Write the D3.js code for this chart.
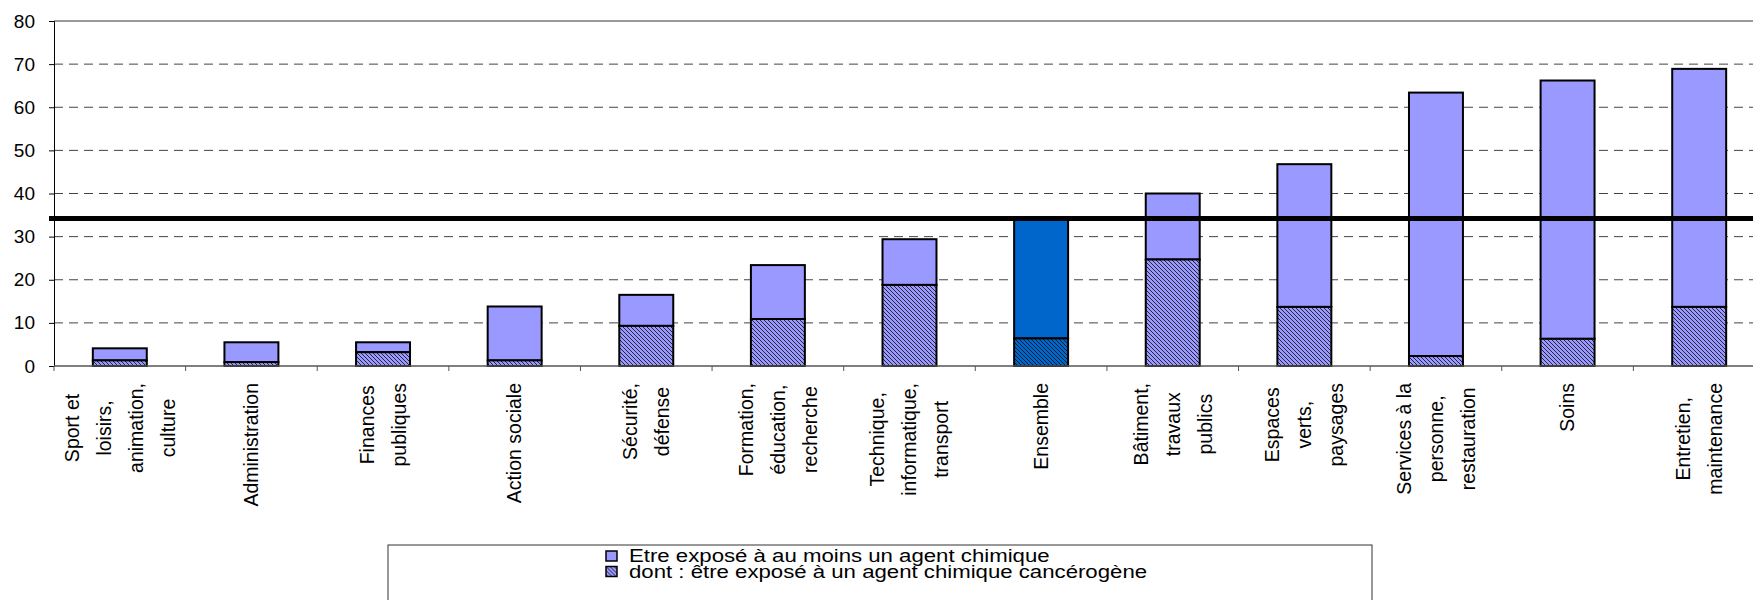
<!DOCTYPE html>
<html lang="fr">
<head>
<meta charset="utf-8">
<title>Exposition aux agents chimiques</title>
<script src="https://cdn.jsdelivr.net/npm/d3@7"></script>
<style>
  body { margin: 0; background: #fff; }
  text { font-family: "Liberation Sans", Arial, sans-serif; fill: #000; }
</style>
</head>
<body>
<script>

// categories, each split into the lines shown under the axis
var categories = [
  ["Sport et", "loisirs,", "animation,", "culture"],
  ["Administration"],
  ["Finances", "publiques"],
  ["Action sociale"],
  ["Sécurité,", "défense"],
  ["Formation,", "éducation,", "recherche"],
  ["Technique,", "informatique,", "transport"],
  ["Ensemble"],
  ["Bâtiment,", "travaux", "publics"],
  ["Espaces", "verts,", "paysages"],
  ["Services à la", "personne,", "restauration"],
  ["Soins"],
  ["Entretien,", "maintenance"]
];
var exposeChimique  = [4.1, 5.5, 5.5, 13.8, 16.5, 23.4, 29.4, 34.5, 40.0, 46.8, 63.4, 66.2, 68.9];
var dontCancerogene = [1.3, 0.9, 3.2, 1.3, 9.3, 10.9, 18.8, 6.4, 24.7, 13.7, 2.3, 6.3, 13.7];
var moyenneEnsemble = 34.2;
var yTicks = [0, 10, 20, 30, 40, 50, 60, 70, 80];
var legendLabels = ["Etre exposé à au moins un agent chimique",
                    "dont : être exposé à un agent chimique cancérogène"];
var highlight = "Ensemble";

var width = 1753, height = 600;
var plotLeft = 54, plotRight = 1765, plotTop = 21, plotBottom = 366;

var svg = d3.select("body").append("svg")
  .attr("width", width)
  .attr("height", height);

var x = d3.scaleBand()
  .domain(d3.range(categories.length))
  .range([plotLeft, plotRight])
  .paddingInner(0.59)
  .paddingOuter(0.295);

var y = d3.scaleLinear().domain([0, 80]).range([plotBottom, plotTop]);

// hatch patterns
var defs = svg.append("defs");
function hatch(id, bg) {
  var p = defs.append("pattern")
    .attr("id", id)
    .attr("patternUnits", "userSpaceOnUse")
    .attr("width", 4).attr("height", 4);
  p.append("rect").attr("width", 4).attr("height", 4).attr("fill", bg);
  p.append("path")
    .attr("d", "M-1,-1 L5,5 M-1,3 L1,5 M3,-1 L5,1")
    .attr("stroke", "#111").attr("stroke-width", 0.85);
}
hatch("hatch", "#9999ff");
hatch("hatchDark", "#0066cc");

// grid
svg.append("g")
  .selectAll("line")
  .data(yTicks.filter(function(d) { return d > 0 && d < 80; }))
  .enter().append("line")
  .attr("x1", plotLeft).attr("x2", width)
  .attr("y1", function(d) { return y(d); })
  .attr("y2", function(d) { return y(d); })
  .attr("stroke", "#444")
  .attr("stroke-dasharray", "9,6");

svg.append("line")
  .attr("x1", plotLeft).attr("x2", width)
  .attr("y1", y(80)).attr("y2", y(80))
  .attr("stroke", "#999").attr("stroke-width", 2);

// bars
var bars = svg.append("g")
  .selectAll("g")
  .data(categories)
  .enter().append("g");

bars.append("rect")
  .attr("x", function(d, i) { return x(i); })
  .attr("width", x.bandwidth())
  .attr("y", function(d, i) { return y(exposeChimique[i]); })
  .attr("height", function(d, i) { return y(dontCancerogene[i]) - y(exposeChimique[i]); })
  .attr("fill", function(d) { return d[0] == highlight ? "#0066cc" : "#9999ff"; })
  .attr("stroke", "#000").attr("stroke-width", 2);

bars.append("rect")
  .attr("x", function(d, i) { return x(i); })
  .attr("width", x.bandwidth())
  .attr("y", function(d, i) { return y(dontCancerogene[i]); })
  .attr("height", function(d, i) { return y(0) - y(dontCancerogene[i]); })
  .attr("fill", function(d) { return d[0] == highlight ? "url(#hatchDark)" : "url(#hatch)"; })
  .attr("stroke", "#000").attr("stroke-width", 2);

// axes
var yAxis = svg.append("g")
  .attr("transform", "translate(" + plotLeft + ",0)")
  .call(d3.axisLeft(y).tickValues(yTicks).tickSize(5).tickPadding(14));
yAxis.select(".domain").attr("stroke", "#000");
yAxis.selectAll("text")
  .attr("font-size", 19)
  .attr("font-family", "Liberation Sans, Arial, sans-serif")
  .attr("fill", "#000");

var xTicks = d3.range(categories.length + 1).map(function(i) {
  return plotLeft + i * x.step();
});
svg.append("line")
  .attr("x1", plotLeft).attr("x2", width)
  .attr("y1", plotBottom).attr("y2", plotBottom)
  .attr("stroke", "#555").attr("stroke-width", 1.5);
svg.append("g").selectAll("line")
  .data(xTicks)
  .enter().append("line")
  .attr("x1", function(d) { return d; }).attr("x2", function(d) { return d; })
  .attr("y1", plotBottom).attr("y2", plotBottom + 5)
  .attr("stroke", "#555");

// average line
svg.append("line")
  .attr("x1", plotLeft - 5).attr("x2", width)
  .attr("y1", y(moyenneEnsemble)).attr("y2", y(moyenneEnsemble))
  .attr("stroke", "#000").attr("stroke-width", 5);

// category labels, rotated
var lineGap = 32, labelTop = 383;
var labels = svg.append("g")
  .selectAll("g")
  .data(categories)
  .enter().append("g")
  .attr("transform", function(d, i) { return "translate(" + (x(i) + x.bandwidth() / 2) + ",0)"; });

labels.each(function(lines) {
  var g = d3.select(this);
  var n = lines.length;
  var texts = g.selectAll("text")
    .data(lines)
    .enter().append("text")
    .attr("font-size", 19.5)
    .attr("text-anchor", "middle")
    .attr("dy", "0.35em")
    .text(function(d) { return d; });
  var longest = d3.max(texts.nodes(), function(t) { return t.getComputedTextLength(); });
  var cy = labelTop + longest / 2;
  texts.attr("transform", function(d, j) {
    return "translate(" + ((j - (n - 1) / 2) * lineGap) + "," + cy + ") rotate(-90)";
  });
});

// legend
var legend = svg.append("g");
legend.append("rect")
  .attr("x", 388).attr("y", 545)
  .attr("width", 984).attr("height", 80)
  .attr("fill", "#fff").attr("stroke", "#333");

var items = legend.selectAll("g.item")
  .data(legendLabels)
  .enter().append("g")
  .attr("class", "item")
  .attr("transform", function(d, i) { return "translate(606," + (551 + i * 15.5) + ")"; });
items.append("rect")
  .attr("width", 11).attr("height", 10)
  .attr("fill", function(d, i) { return i == 0 ? "#9999ff" : "url(#hatch)"; })
  .attr("stroke", "#000").attr("stroke-width", 1.5);
items.append("text")
  .attr("transform", "translate(23,11) scale(1.2,1)")
  .attr("font-size", 18.5)
  .text(function(d) { return d; });

</script>
</body>
</html>
